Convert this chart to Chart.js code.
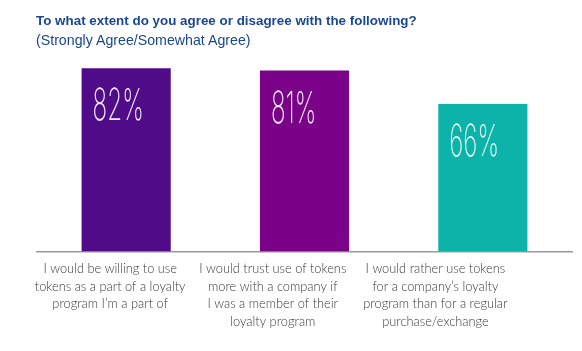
<!DOCTYPE html>
<html>
<head>
<meta charset="utf-8">
<script src="https://cdn.jsdelivr.net/npm/chart.js@4.4.1/dist/chart.umd.min.js"></script>
<style>
  html, body { margin: 0; padding: 0; background: #fff; }
  #wrap { position: relative; width: 582px; height: 351px; }
  #title { position: absolute; left: 36px; top: 13px; font: bold 13.4px "Liberation Sans", Arial, sans-serif; color: #1b4690; }
  #subtitle { position: absolute; left: 36px; top: 32px; font: 14.2px "Liberation Sans", Arial, sans-serif; color: #1b4690; }
  canvas { position: absolute; left: 0; top: 0; }
</style>
</head>
<body>
<div id="wrap">
  <canvas id="chart" width="582" height="351"></canvas>
  <div id="title">To what extent do you agree or disagree with the following?</div>
  <div id="subtitle">(Strongly Agree/Somewhat Agree)</div>
</div>
<script>
// data
var categories = [
    ['I would be willing to use', 'tokens as a part of a loyalty', 'program I\u2019m a part of'],
    ['I would trust use of tokens', 'more with a company if', 'I was a member of their', 'loyalty program'],
    ['I would rather use tokens', 'for a company\u2019s loyalty', 'program than for a regular', 'purchase/exchange']
];
var values = [82, 81, 66];
var barColors = ['#500c88', '#790289', '#0bb3a9'];

// white percentage inside the top of each bar
var valueLabels = {
    id: 'valueLabels',
    afterDatasetsDraw: function(chart) {
        var ctx = chart.ctx;
        var meta = chart.getDatasetMeta(0);
        ctx.save();
        ctx.fillStyle = 'rgba(255,255,255,0.92)';
        ctx.font = '200 44px Inter, "DejaVu Sans", sans-serif';
        ctx.textBaseline = 'top';
        ctx.textAlign = 'left';
        meta.data.forEach(function(bar, i) {
            var x = bar.x - bar.width / 2 + 11;
            var y = bar.y + 17;
            ctx.save();
            ctx.translate(x, y);
            ctx.scale(0.55, 1);
            ctx.fillText(values[i] + '%', 0, 0);
            ctx.restore();
        });
        ctx.restore();
    }
};

new Chart(document.getElementById('chart').getContext('2d'), {
    type: 'bar',
    data: {
        labels: categories,
        datasets: [{
            data: values,
            backgroundColor: barColors,
            categoryPercentage: 1,
            barPercentage: 0.5
        }]
    },
    options: {
        responsive: false,
        animation: false,
        layout: { padding: { left: 37, right: 10, top: 28, bottom: 0 } },
        plugins: { legend: { display: false }, tooltip: { enabled: false } },
        scales: {
            x: { display: false },
            // label axis: the captions sit a little left of their bars
            xl: {
                type: 'linear',
                position: 'bottom',
                offset: false,
                bounds: 'data',
                min: -0.45,
                max: 2.84,
                afterBuildTicks: function(scale) {
                    scale.ticks = categories.map(function(c, i) { return { value: i }; });
                },
                afterFit: function(scale) { scale.height = 99.5; },
                grid: { display: false, drawTicks: false, offset: false },
                border: { display: true, color: '#9a9a9a', width: 1.5 },
                ticks: {
                    autoSkip: false,
                    maxRotation: 0,
                    minRotation: 0,
                    padding: 9,
                    color: '#3a3a3a',
                    font: { family: 'Lato, "Liberation Sans", sans-serif', size: 12.8, weight: 300, lineHeight: 1.37 },
                    callback: function(v) { return categories[v]; }
                }
            },
            y: { display: false, min: 0, max: 100 }
        }
    },
    plugins: [valueLabels]
});
</script>
</body>
</html>
